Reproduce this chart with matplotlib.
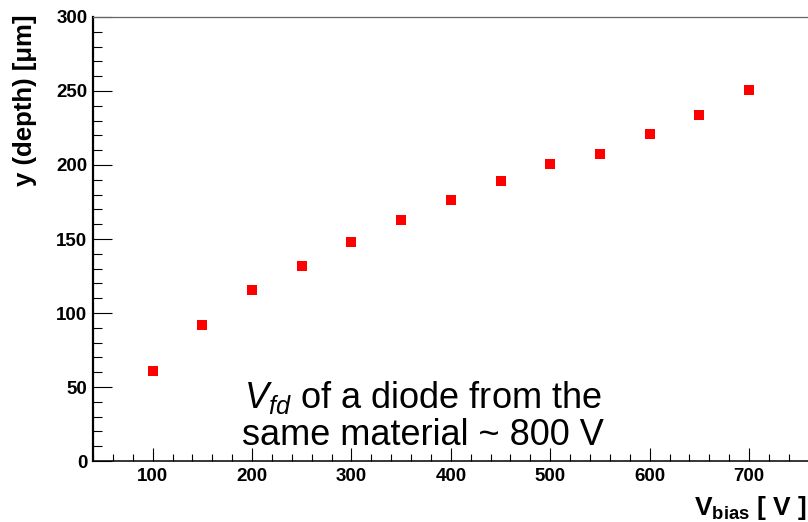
import matplotlib
matplotlib.use("Agg")
import matplotlib.pyplot as plt
from matplotlib.ticker import MultipleLocator

# Depletion depth versus bias voltage
v_bias = [100, 150, 200, 250, 300, 350, 400, 450, 500, 550, 600, 650, 700]
depth_um = [61, 92, 115.5, 132, 148, 162.5, 176.5, 189.5, 200.5, 207.5, 221, 233.5, 251]

x_ticks = [100, 200, 300, 400, 500, 600, 700]
y_ticks = [0, 50, 100, 150, 200, 250, 300]

plt.rcParams["font.family"] = ["Liberation Sans", "DejaVu Sans"]
plt.rcParams["mathtext.fontset"] = "custom"
plt.rcParams["mathtext.rm"] = "Liberation Sans"
plt.rcParams["mathtext.it"] = "Liberation Sans:italic"
plt.rcParams["mathtext.bf"] = "Liberation Sans:bold"

W, H = 808, 522
fig = plt.figure(figsize=(W / 100, H / 100), dpi=100)

x_lo, x_hi = 40, 780
px_per_unit = 0.994
left_px, bottom_px, top_px = 93, 461, 17
ax = fig.add_axes([left_px / W, (H - bottom_px) / H,
                   (x_hi - x_lo) * px_per_unit / W, (bottom_px - top_px) / H])

ax.plot(v_bias, depth_um, linestyle="none", marker="s", markersize=7.4,
        color="#ff0000", markeredgewidth=0)

ax.set_xlim(x_lo, x_hi)
ax.set_ylim(0, 300)
ax.set_xticks(x_ticks)
ax.set_yticks(y_ticks)
ax.xaxis.set_minor_locator(MultipleLocator(20))
ax.yaxis.set_minor_locator(MultipleLocator(10))

for lab in ax.get_xticklabels() + ax.get_yticklabels():
    lab.set_fontweight("bold")
    lab.set_fontsize(13.5)

ax.tick_params(axis="both", which="both", direction="in", color="black",
               width=0.8, top=False, right=False)
ax.tick_params(axis="y", which="major", length=14, pad=4)
ax.tick_params(axis="y", which="minor", length=6.5)
ax.tick_params(axis="x", which="major", length=9.5, pad=5)
ax.tick_params(axis="x", which="minor", length=5)

ax.spines["right"].set_visible(False)
ax.spines["top"].set_color("#666666")
ax.spines["top"].set_linewidth(0.9)
ax.spines["left"].set_linewidth(1.6)
ax.spines["bottom"].set_linewidth(1.1)

# Axis titles
fig.text(25 / W, 1 - 14 / H, "y (depth) [μm]", rotation=90, ha="center", va="top",
         fontsize=18.5, fontweight="bold")
fig.text(807 / W, 1 - 515 / H, r"$\mathbf{V}_{\mathbf{bias}}$ [ V ]", ha="right",
         va="baseline", fontsize=19, fontweight="bold")

# Note on full depletion voltage
ax.text(372, 10.8, "$V_{fd}$ of a diode from the\nsame material ~ 800 V",
        ha="center", va="baseline", multialignment="center", fontsize=26,
        linespacing=1.08)

fig.savefig("out.png", dpi=100)
